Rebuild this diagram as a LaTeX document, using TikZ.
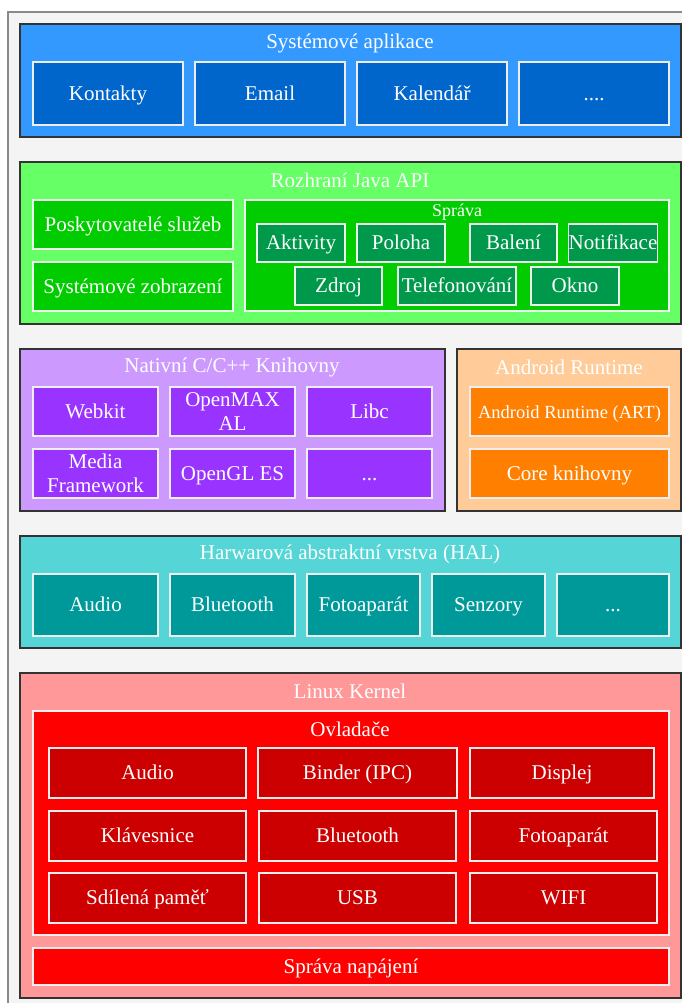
\documentclass[tikz,border=0pt]{standalone}
\usepackage{fontspec}
\setmainfont{Liberation Serif}
\definecolor{bgray}{HTML}{F4F4F4}
\definecolor{bgrayline}{HTML}{8A8A8A}
\definecolor{layline}{HTML}{333333}
\definecolor{blueL}{HTML}{3399FF}
\definecolor{blueB}{HTML}{0066CC}
\definecolor{greenL}{HTML}{66FF66}
\definecolor{greenM}{HTML}{00CC00}
\definecolor{greenB}{HTML}{00994C}
\definecolor{purpL}{HTML}{CC99FF}
\definecolor{purpB}{HTML}{9933FF}
\definecolor{oranL}{HTML}{FFCC99}
\definecolor{oranB}{HTML}{FF8000}
\definecolor{tealL}{HTML}{55D5D5}
\definecolor{tealB}{HTML}{009999}
\definecolor{redL}{HTML}{FF9999}
\definecolor{redM}{HTML}{FF0000}
\definecolor{redB}{HTML}{CC0000}
\definecolor{boxline}{HTML}{EEEEEE}
\newcommand\mystrut{\rule[-0.24em]{0pt}{1.14em}}
\newcommand\bx[8]{\node[#6, fill=#7, minimum width={(#4-#2)*1pt}, minimum height={(#5-#3)*1pt}] (#1) at ({(#2+#4)/2},{(#3+#5)/2}) {\mystrut#8\mystrut};}
\begin{document}
\begin{tikzpicture}[x=1pt,y=-1pt,
  every node/.style={inner sep=0pt, outer sep=0pt, text=white, align=center, font=\fontsize{21}{24}\selectfont},
  layer/.style={draw=layline, line width=1.4pt},
  box/.style={draw=boxline, line width=1.2pt},
  ttl/.style={font=\fontsize{21}{24}\selectfont},
  small/.style={font=\fontsize{18}{20}\selectfont}]
\useasboundingbox (0,0) rectangle (682,1003);
\fill[white] (0,0) rectangle (682,1003);
\draw[fill=bgray, draw=bgrayline, line width=1.2pt] (8,12) rectangle (720,1040);
% Blue layer
\bx{apps}{20}{24}{681}{137}{layer}{blueL}{}
\node[ttl] (appsT) at (350,43) {Systémové aplikace};
\bx{kont}{33}{62}{183}{125}{box}{blueB}{Kontakty}
\bx{email}{195}{62}{345}{125}{box}{blueB}{Email}
\bx{kal}{357}{62}{507}{125}{box}{blueB}{Kalendář}
\bx{appdots}{519}{62}{669}{125}{box}{blueB}{....}
% Green layer
\bx{java}{20}{162}{681}{324}{layer}{greenL}{}
\node[ttl] (javaT) at (350,180) {Rozhraní Java API};
\bx{posk}{33}{200}{233}{249}{box}{greenM}{Poskytovatelé služeb}
\bx{syszob}{33}{262}{233}{311}{box}{greenM}{Systémové zobrazení}
\bx{sprava}{245}{200}{669}{311}{box}{greenM}{}
\node[small] (spravaT) at (457,212) {Správa};
\bx{akt}{257}{224}{345}{262}{box}{greenB}{Aktivity}
\bx{pol}{357}{224}{445}{262}{box}{greenB}{Poloha}
\bx{bal}{470}{224}{557}{262}{box}{greenB}{Balení}
\bx{notif}{569}{224}{657}{262}{box}{greenB}{Notifikace}
\bx{zdroj}{295}{267}{382}{305}{box}{greenB}{Zdroj}
\bx{telef}{398}{267}{516}{305}{box}{greenB}{Telefonování}
\bx{okno}{531}{267}{619}{305}{box}{greenB}{Okno}
% Purple layer
\bx{nat}{20}{349}{445}{511}{layer}{purpL}{}
\node[ttl] (natT) at (232,367) {Nativní C/C++ Knihovny};
\bx{webkit}{33}{387}{158}{436}{box}{purpB}{Webkit}
\bx{omax}{170}{387}{295}{436}{box}{purpB}{OpenMAX\\AL}
\bx{libc}{307}{387}{432}{436}{box}{purpB}{Libc}
\bx{media}{33}{449}{158}{498}{box}{purpB}{Media\\Framework}
\bx{ogl}{170}{449}{295}{498}{box}{purpB}{OpenGL ES}
\bx{natdots}{307}{449}{432}{498}{box}{purpB}{...}
% Orange layer
\bx{rt}{457}{349}{681}{511}{layer}{oranL}{}
\node[ttl] (rtT) at (569,367) {Android Runtime};
\bx{art}{470}{387}{669}{436}{box}{oranB}{\fontsize{18.5}{24}\selectfont Android Runtime (ART)}
\bx{core}{470}{449}{669}{498}{box}{oranB}{Core knihovny}
% Teal layer
\bx{hal}{20}{536}{681}{648}{layer}{tealL}{}
\node[ttl] (halT) at (350,554) {Harwarová abstraktní vrstva (HAL)};
\bx{haudio}{33}{574}{158}{636}{box}{tealB}{Audio}
\bx{hbt}{170}{574}{295}{636}{box}{tealB}{Bluetooth}
\bx{hfoto}{307}{574}{420}{636}{box}{tealB}{Fotoaparát}
\bx{hsenz}{432}{574}{545}{636}{box}{tealB}{Senzory}
\bx{hdots}{557}{574}{669}{636}{box}{tealB}{...}
% Red layer
\bx{kern}{20}{673}{681}{998}{layer}{redL}{}
\node[ttl] (kernT) at (350,691) {Linux Kernel};
\bx{ovl}{33}{711}{669}{935}{box}{redM}{}
\node[ttl] (ovlT) at (350,729) {Ovladače};
\bx{kaudio}{49}{748}{246}{798}{box}{redB}{Audio}
\bx{kbind}{258}{748}{457}{798}{box}{redB}{Binder (IPC)}
\bx{kdisp}{470}{748}{654}{798}{box}{redB}{Displej}
\bx{kklav}{49}{811}{246}{861}{box}{redB}{Klávesnice}
\bx{kbt}{259}{811}{456}{861}{box}{redB}{Bluetooth}
\bx{kfoto}{470}{811}{657}{861}{box}{redB}{Fotoaparát}
\bx{kshm}{49}{873}{246}{923}{box}{redB}{Sdílená paměť}
\bx{kusb}{259}{873}{456}{923}{box}{redB}{USB}
\bx{kwifi}{470}{873}{657}{923}{box}{redB}{WIFI}
\bx{power}{33}{948}{669}{985}{box}{redM}{Správa napájení}
\end{tikzpicture}
\end{document}
